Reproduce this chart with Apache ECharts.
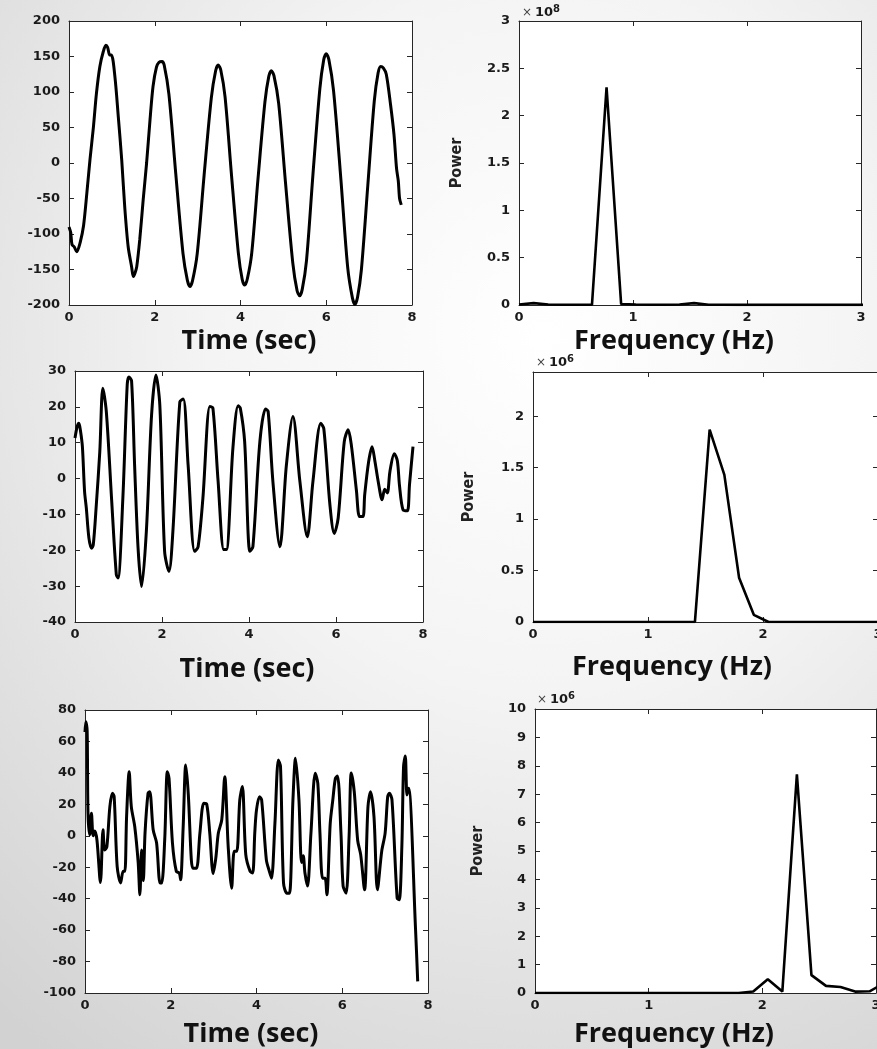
<!DOCTYPE html>
<html>
<head>
<meta charset="utf-8">
<script src="https://cdn.jsdelivr.net/npm/echarts@6/dist/echarts.min.js"></script>
<style>
  html, body { margin: 0; padding: 0; }
  body {
    width: 877px; height: 1049px;
    background: radial-gradient(ellipse 95% 85% at 62% 32%, #ffffff 0%, #f4f4f4 40%, #d2d2d2 100%);
  }
  #chart { width: 877px; height: 1049px; }
</style>
</head>
<body>
<div id="chart"></div>
<script>
// ---- top-left: time signal 1
const t1 = [0.00, 0.04, 0.07, 0.12, 0.18, 0.26, 0.34, 0.42, 0.49, 0.57, 0.64, 0.72, 0.80, 0.86, 0.90, 0.95,
  0.99, 1.07, 1.15, 1.23, 1.30, 1.38, 1.46, 1.50, 1.54, 1.58, 1.65, 1.73, 1.81, 1.89, 1.96, 2.04, 2.10, 2.17, 2.22,
  2.33, 2.49, 2.66, 2.76, 2.82, 2.88, 2.99, 3.15, 3.32, 3.42, 3.48, 3.54, 3.64, 3.79, 3.95, 4.04, 4.10, 4.16,
  4.26, 4.41, 4.57, 4.66, 4.72, 4.78, 4.89, 5.05, 5.22, 5.32, 5.38, 5.44, 5.54, 5.69, 5.85, 5.94, 6.00, 6.06,
  6.17, 6.34, 6.50, 6.61, 6.67, 6.73, 6.82, 6.97, 7.12, 7.21, 7.27, 7.33, 7.40, 7.50, 7.58, 7.64, 7.68, 7.71, 7.75];
const v1 = [-90, -98, -115, -118, -125, -112, -88, -40, 5, 51, 98, 136, 157, 166, 163, 152,
  152, 122, 65, 4, -62, -118, -146, -160, -155, -146, -108, -52, 0, 61, 108, 135, 142, 143, 138,
  97, -15, -128, -165, -174, -166, -128, -18, 92, 130, 138, 131, 93, -17, -127, -164, -172, -163,
  -128, -21, 86, 122, 130, 123, 84, -28, -141, -180, -187, -178, -137, -16, 104, 145, 154, 146,
  102, -22, -147, -190, -199, -189, -150, -31, 87, 127, 136, 134, 125, 82, 40, -8, -25, -50, -59];

// ---- middle-left: time signal 2
const t2 = [0.00, 0.05, 0.09, 0.13, 0.17, 0.22, 0.26, 0.32, 0.38, 0.42, 0.49, 0.57, 0.64, 0.72, 0.84, 0.95, 0.99,
  1.10, 1.20, 1.24, 1.30, 1.37, 1.45, 1.53, 1.64, 1.76, 1.86, 1.95, 2.06, 2.16, 2.25, 2.41, 2.49, 2.60, 2.75,
  2.83, 2.94, 3.10, 3.17, 3.29, 3.42, 3.48, 3.63, 3.75, 3.80, 3.90, 4.02, 4.09, 4.25, 4.38, 4.44, 4.55, 4.71,
  4.86, 5.01, 5.17, 5.34, 5.47, 5.65, 5.72, 5.86, 5.96, 6.05, 6.19, 6.28, 6.35, 6.47, 6.54, 6.62, 6.66, 6.75,
  6.83, 6.89, 6.97, 7.06, 7.12, 7.18, 7.24, 7.34, 7.41, 7.46, 7.54, 7.64, 7.69, 7.77];
const v2 = [11.3, 14.5, 15.4, 13, 8.9, -3.6, -8.2, -16.6, -19.4, -18.5, -7.3, 7.5, 25.2, 18.7, -5.5, -26.8, -27.7,
  -5.5, 26.1, 28.3, 27.3, 3.8, -19.4, -30.1, -14.8, 17.7, 28.9, 20.5, -20.3, -25.9, -14.8, 21.4, 22.2, 3.8, -20.3,
  -19, -5.5, 20.1, 19.7, -0.8, -19.8, -19.8, 8.5, 20.3, 19.7, 10.3, -20.3, -19, 10.3, 19.4, 18.7, -0.9, -19,
  3.8, 17.3, -0.8, -16.2, -0.8, 15.4, 13.9, -7.3, -15.3, -11, 10.3, 13.6, 9.6, -3.4, -10.6, -10.6, -4.5, 4.7,
  8.9, 5.2, -0.8, -5.9, -3.0, -4, 2.0, 6.9, 5, -2.0, -8.7, -9, -1.6, 8.9];

// ---- bottom-left: time signal 3
const t3 = [0.00, 0.02, 0.05, 0.07, 0.11, 0.15, 0.19, 0.23, 0.28, 0.36, 0.42, 0.46, 0.51, 0.58, 0.64, 0.68, 0.75,
  0.83, 0.89, 0.93, 0.97, 1.03, 1.08, 1.16, 1.24, 1.28, 1.32, 1.36, 1.40, 1.47, 1.51, 1.59, 1.67, 1.75, 1.79,
  1.86, 1.92, 1.96, 2.04, 2.13, 2.20, 2.23, 2.29, 2.35, 2.41, 2.48, 2.52, 2.60, 2.68, 2.77, 2.84, 2.91, 2.99,
  3.05, 3.11, 3.19, 3.26, 3.34, 3.42, 3.48, 3.54, 3.61, 3.67, 3.75, 3.85, 3.91, 3.96, 4.00, 4.07, 4.12, 4.23,
  4.30, 4.35, 4.43, 4.51, 4.56, 4.63, 4.71, 4.77, 4.85, 4.91, 4.99, 5.05, 5.09, 5.13, 5.19, 5.27, 5.37, 5.43,
  5.48, 5.54, 5.60, 5.64, 5.72, 5.78, 5.84, 5.89, 5.97, 6.02, 6.09, 6.16, 6.21, 6.28, 6.36, 6.43, 6.52, 6.60,
  6.66, 6.74, 6.82, 6.92, 7.00, 7.06, 7.10, 7.16, 7.28, 7.33, 7.39, 7.43, 7.47, 7.51, 7.55, 7.71, 7.76];
const v3 = [66, 72.6, 67, 14.4, 0.6, 14.4, 0, 3, -3, -29.7, 3.8, -9, -7, 18.6, 27, 25, -19.5,
  -30, -22.6, -22.6, 12.2, 40.8, 18.6, 5.9, -17, -37.5, -9, -28.5, 1.7, 27, 28, 3.8, -4.6, -30, -30,
  -2, 40.8, 36.5, -4.6, -22.6, -23.7, -28, 5.9, 45, 26, -15.3, -20.6, -20.6, 1.7, 20.7, 20, 1.7, -24,
  -14.4, 1.7, 10.2, 37.6, -7, -33.3, -9.9, -9.9, 22.8, 31.3, -12, -22.6, -23.7, 2, 16.5, 24.9, 22.8, -15.3,
  -22.6, -27, 8, 48.2, 44, -30, -36.5, -36.5, 22.8, 49.3, 22.8, -17, -12.7, -23.7, -32, 1.7, 39.7, 33.4,
  1.7, -27, -27, -37.5, 8, 22.8, 36.5, 38, 1.7, -32, -36.5, 0, 40, 28, -3, -12, -34.4, 18.6,
  28, 12.2, -34.4, -9.9, 1.7, 24.9, 27, 22.8, -39.6, -40.7, -7, 44, 50.8, 26, 30.3, -59.8, -92.6];

// ---- power spectra (shared frequency bins, Hz)
const freqBins = [0, 0.128, 0.256, 0.384, 0.512, 0.64, 0.768, 0.896, 1.024, 1.152, 1.28, 1.408, 1.536,
  1.664, 1.792, 1.92, 2.048, 2.176, 2.304, 2.432, 2.56, 2.688, 2.816, 2.944, 3.072];
const power1 = [0.005, 0.02, 0.005, 0.002, 0.002, 0.002, 2.30, 0.01, 0.005, 0.003, 0.002, 0.005, 0.02,
  0.003, 0.002, 0.001, 0.001, 0.001, 0.001, 0.001, 0.001, 0.001, 0.001, 0.001, 0.001]; // x 10^8
const power2 = [0, 0, 0, 0, 0, 0, 0, 0, 0, 0, 0, 0, 1.87,
  1.43, 0.43, 0.07, 0, 0, 0, 0, 0, 0, 0, 0, 0]; // x 10^6
const power3 = [0, 0, 0, 0, 0, 0, 0, 0, 0, 0, 0, 0, 0,
  0, 0, 0.05, 0.48, 0.05, 7.7, 0.63, 0.25, 0.21, 0.05, 0.06, 0.35]; // x 10^6

const axisColor = "#262626";
const tickFont = {
  fontFamily: "DejaVu Sans",
  fontWeight: "bold",
  fontSize: 13,
  color: "#1a1a1a",
};

const zip = (xs, ys) => xs.map((x, i) => [x, ys[i]]);

// panel boxes (left, top, width, height)
const panels = [
  { box: [69, 21, 343, 284], x: [0, 8, 2], y: [-200, 200, 50], data: zip(t1, v1) },
  { box: [519, 21, 342, 284], x: [0, 3, 1], y: [0, 3, 0.5], data: zip(freqBins, power1) },
  { box: [75, 371, 348, 251], x: [0, 8, 2], y: [-40, 30, 10], data: zip(t2, v2) },
  { box: [533, 372, 345, 250], x: [0, 3, 1], y: [0, 2.43, 0.5], data: zip(freqBins, power2), hideMax: true },
  { box: [85, 710, 343, 283], x: [0, 8, 2], y: [-100, 80, 20], data: zip(t3, v3) },
  { box: [535, 709, 341, 284], x: [0, 3, 1], y: [0, 10, 1], data: zip(freqBins, power3) },
];

const grids = [];
const xAxes = [];
const yAxes = [];
const series = [];

panels.forEach((p, i) => {
  const [left, top, width, height] = p.box;
  grids.push({
    left, top, width, height,
    show: true,
    backgroundColor: "#ffffff",
    borderWidth: 0,
    outerBoundsMode: "none",
  });
  const line = { show: true, onZero: false, lineStyle: { color: axisColor, width: 1 } };
  const tick = { show: true, inside: true, length: 5, lineStyle: { color: axisColor, width: 1 } };
  const xBase = {
    gridIndex: i, type: "value", min: p.x[0], max: p.x[1], interval: p.x[2],
    axisLine: line, axisTick: tick, splitLine: { show: false },
  };
  xAxes.push({ ...xBase, position: "bottom", axisLabel: { ...tickFont, margin: 6 } });
  xAxes.push({ ...xBase, position: "top", axisLabel: { show: false } });
  const yBase = {
    gridIndex: i, type: "value", min: p.y[0], max: p.y[1], interval: p.y[2],
    axisLine: line, axisTick: tick, splitLine: { show: false },
  };
  yAxes.push({
    ...yBase, position: "left",
    axisLabel: { ...tickFont, margin: 9, showMaxLabel: !p.hideMax },
  });
  yAxes.push({ ...yBase, position: "right", axisLabel: { show: false } });

  series.push({
    type: "line",
    xAxisIndex: 2 * i,
    yAxisIndex: 2 * i,
    data: p.data,
    showSymbol: false,
    smooth: i % 2 === 0 ? 0.3 : false,
    clip: true,
    lineStyle: { color: "#000", width: i % 2 === 0 ? 3 : 2.6 },
    z: 3,
  });
});

const titleFont = 'bold 27px "Open Sans", "DejaVu Sans", sans-serif';
const axisTitle = (text, x, y) => ({
  type: "text", x, y, silent: true,
  style: {
    text, font: titleFont, fill: "#111",
    textAlign: "center", textVerticalAlign: "middle",
    align: "center", verticalAlign: "middle",
  },
});
const powerLabel = (x, y) => ({
  type: "text", x, y, rotation: Math.PI / 2, silent: true,
  style: {
    text: "Power", font: 'bold 16px "Liberation Sans Narrow", "DejaVu Sans Condensed", sans-serif', fill: "#222",
    textAlign: "center", textVerticalAlign: "middle",
    align: "center", verticalAlign: "middle",
  },
});
const exponent = (x, y, e) => [
  {
    type: "text", x, y, silent: true,
    style: {
      text: "×", font: '12px "DejaVu Sans", sans-serif', fill: "#444",
      textAlign: "left", textVerticalAlign: "bottom", align: "left", verticalAlign: "bottom",
    },
  },
  {
    type: "text", x: x + 13, y, silent: true,
    style: {
      text: "10", font: 'bold 13px "DejaVu Sans", sans-serif', fill: "#1a1a1a",
      textAlign: "left", textVerticalAlign: "bottom", align: "left", verticalAlign: "bottom",
    },
  },
  {
    type: "text", x: x + 31, y: y - 5, silent: true,
    style: {
      text: e, font: 'bold 10px "DejaVu Sans", sans-serif', fill: "#1a1a1a",
      textAlign: "left", textVerticalAlign: "bottom", align: "left", verticalAlign: "bottom",
    },
  },
];

const graphics = [
  axisTitle("Time (sec)", 249, 341),
  axisTitle("Frequency (Hz)", 674, 341),
  axisTitle("Time (sec)", 247, 669),
  axisTitle("Frequency (Hz)", 672, 667),
  axisTitle("Time (sec)", 251, 1034),
  axisTitle("Frequency (Hz)", 674, 1034),
  powerLabel(457, 163),
  powerLabel(469, 497),
  powerLabel(478, 851),
  ...exponent(522, 19, "8"),
  ...exponent(536, 369, "6"),
  ...exponent(537, 706, "6"),
];

const chart = echarts.init(document.getElementById("chart"), null, { renderer: "canvas" });
chart.setOption({
  backgroundColor: "transparent",
  animation: false,
  grid: grids,
  xAxis: xAxes,
  yAxis: yAxes,
  series,
  graphic: graphics,
});
window.addEventListener("resize", () => chart.resize());
</script>
</body>
</html>
